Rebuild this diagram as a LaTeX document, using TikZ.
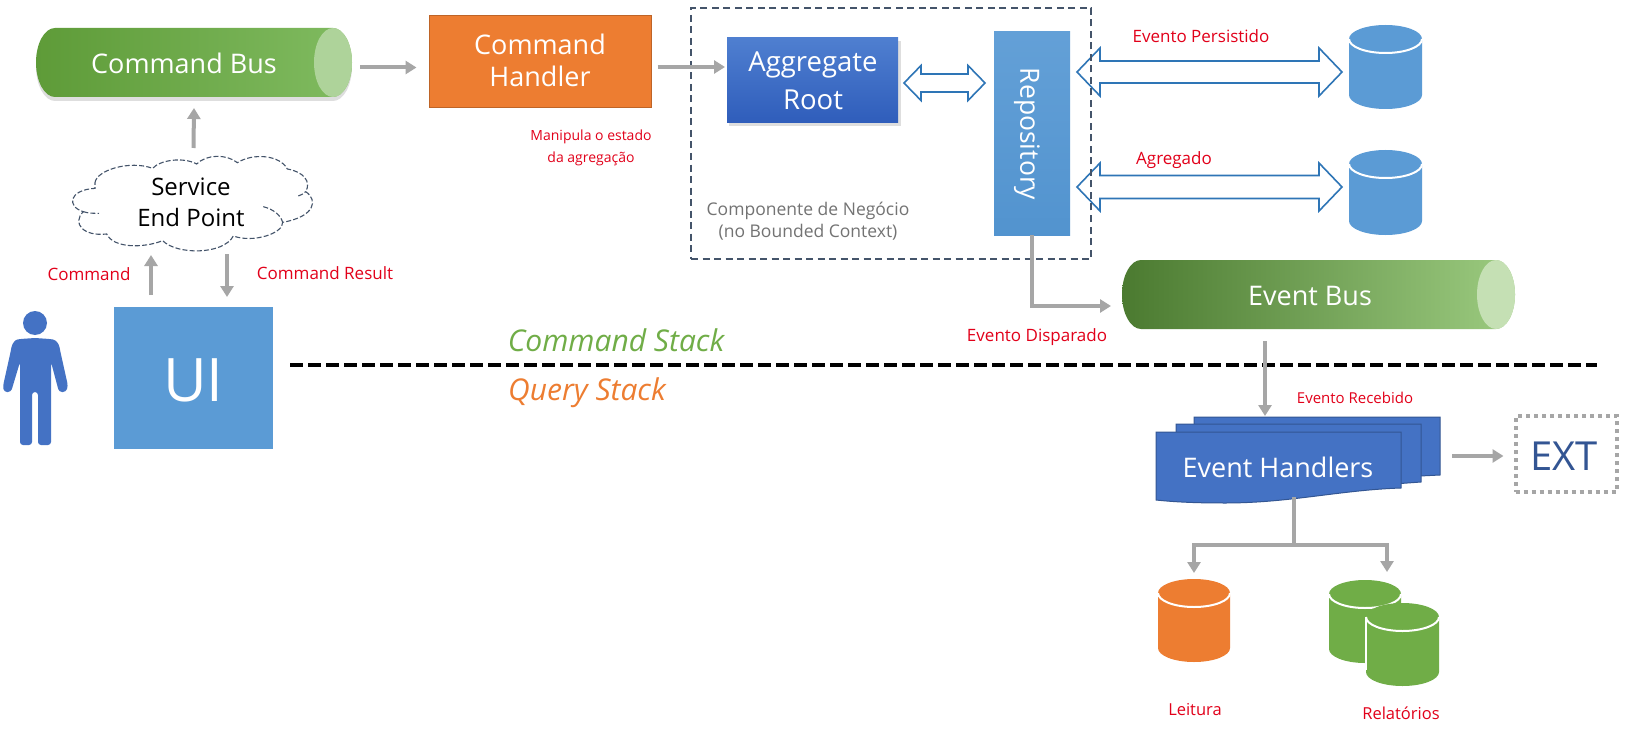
\documentclass[tikz,border=0pt]{standalone}
\usepackage{fontspec}
\setmainfont{Open Sans}
\usetikzlibrary{arrows.meta}
\definecolor{garrowc}{HTML}{A6A6A6}
\definecolor{lblred}{HTML}{E2001A}
\definecolor{bluefill}{HTML}{5B9BD5}
\definecolor{navy}{HTML}{44546A}
\definecolor{royal}{HTML}{4472C4}
\definecolor{orng}{HTML}{ED7D31}
\definecolor{grn}{HTML}{70AD47}
\definecolor{arrowblue}{HTML}{2E75B6}
\newcommand{\fs}[1]{\fontsize{#1pt}{#1pt}\selectfont}
\tikzset{
  garrow/.style={draw=garrowc,line width=4pt,-{Triangle[length=11pt,width=13pt]}},
  gline/.style={draw=garrowc,line width=4pt},
  frame/.style={rectangle,inner sep=0pt,outer sep=0pt},
  redlabel/.style={text=lblred,font=\fs{17},align=center,inner sep=0pt},
  bigwhite/.style={text=white,font=\fs{27},align=center,inner sep=0pt},
  dblarrow/.style={draw=arrowblue,fill=white,line width=1.6pt,line join=miter},
  softshadow/.style={fill=black,opacity=.13}
}
% x1, x2, yc, half shaft, half head, head length
\newcommand{\dblarr}[6]{%
  \filldraw[dblarrow] (#1,#3) -- (#1+#6,#3-#5) -- (#1+#6,#3-#4) -- (#2-#6,#3-#4) -- (#2-#6,#3-#5) -- (#2,#3)
    -- (#2-#6,#3+#5) -- (#2-#6,#3+#4) -- (#1+#6,#3+#4) -- (#1+#6,#3+#5) -- cycle;
}
% name, x1, x2, y1, y2, colour
\newcommand{\dbcyl}[6]{%
  \fill[#6] (#2,#4+14) arc[start angle=180,end angle=0,x radius={((#3)-(#2))/2*1pt},y radius=14pt]
     -- (#3,#5-14) arc[start angle=0,end angle=-180,x radius={((#3)-(#2))/2*1pt},y radius=14pt] -- cycle;
  \draw[white,line width=2pt] (#2,#4+14) arc[start angle=180,end angle=360,x radius={((#3)-(#2))/2*1pt},y radius=14pt];
  \node[frame,minimum width={((#3)-(#2))*1pt},minimum height={((#5)-(#4))*1pt}] (#1) at ({((#2)+(#3))/2},{((#4)+(#5))/2}) {};
}
% name, x1, x2, y1, y2, left, mid, right, cap
\newcommand{\busshape}[9]{%
  \pgfmathsetmacro{\busry}{((#5)-(#4))/2}
  \shade[left color=#6,middle color=#7,right color=#8]
    (#2+19,#4) -- (#3-19,#4) arc[start angle=90,end angle=-90,x radius=19pt,y radius=\busry pt]
    -- (#2+19,#5) arc[start angle=270,end angle=90,x radius=19pt,y radius=\busry pt] -- cycle;
  \fill[#9] (#3-19,#4) arc[start angle=90,end angle=-90,x radius=19pt,y radius=\busry pt]
    arc[start angle=270,end angle=90,x radius=19pt,y radius=\busry pt] -- cycle;
  \node[frame,minimum width={((#3)-(#2))*1pt},minimum height={((#5)-(#4))*1pt}] (#1) at ({((#2)+(#3))/2},{((#4)+(#5))/2}) {};
}
\definecolor{gbusL}{HTML}{5E9B38}
\definecolor{gbusM}{HTML}{6FB03F}
\definecolor{gbusR}{HTML}{80BB60}
\definecolor{gbusC}{HTML}{AED39A}
\definecolor{ebusL}{HTML}{4B7A30}
\definecolor{ebusM}{HTML}{70AF48}
\definecolor{ebusR}{HTML}{9CCB80}
\definecolor{ebusC}{HTML}{C5E0B4}
\definecolor{aggT}{HTML}{4F7FD0}
\definecolor{aggB}{HTML}{2F5DBB}
\begin{document}
\begin{tikzpicture}[x=1pt,y=-1pt]
\useasboundingbox (0,0) rectangle (1629,730);
\fill[white] (0,0) rectangle (1629,730);

% separator
\coordinate (sepL) at (290,365);
\coordinate (sepR) at (1597,365);
\draw[black,line width=4pt,dash pattern=on 13pt off 5pt] (sepL) -- (sepR);
\node[inner sep=0pt,text=grn,font=\fs{30}\itshape] (cmdstack) at (616,340) {Command Stack};
\node[inner sep=0pt,text=orng,font=\fs{30}\itshape] (qrystack) at (587,393) {Query Stack};

% Command bus
\fill[softshadow] (36+19,32) -- (352-19,32) arc[start angle=90,end angle=-90,x radius=19pt,y radius=34.5pt] -- (36+19,101) arc[start angle=270,end angle=90,x radius=19pt,y radius=34.5pt] -- cycle;
\busshape{cmdbus}{36}{352}{28}{97}{gbusL}{gbusM}{gbusR}{gbusC}
\node[bigwhite] (cmdbuslabel) at (184,63) {Command Bus};

% Cloud
\begin{scope}[x=1/3*1pt,y=-1/3*1pt]
\draw[navy,fill=white,line width=1.1pt,dash pattern=on 5pt off 2.2pt]
 (285,548) .. controls (290,510) and (390,480) .. (458,505)
 .. controls (480,480) and (550,470) .. (590,492)
 .. controls (620,462) and (680,462) .. (712,488)
 .. controls (760,458) and (840,465) .. (862,507)
 .. controls (910,515) and (935,545) .. (917,575)
 .. controls (955,600) and (945,650) .. (848,667)
 .. controls (850,700) and (760,730) .. (700,708)
 .. controls (670,765) and (530,765) .. (488,722)
 .. controls (430,745) and (340,745) .. (320,702)
 .. controls (250,710) and (215,670) .. (250,635)
 .. controls (200,620) and (205,570) .. (285,565)
 -- cycle;
\draw[navy,line width=1.1pt,dash pattern=on 5pt off 2.2pt]
 (790,620) .. controls (820,628) and (842,645) .. (848,667)
 (895,588) .. controls (905,585) and (912,580) .. (917,575)
 (250,635) .. controls (265,640) and (280,640) .. (297,640);
\end{scope}
\node[frame,minimum width=243pt,minimum height=96pt] (cloud) at (193.5,204) {};
\node[inner sep=0pt,align=center,text=black,font=\fs{24}] (cloudtext) at (191,202) {Service\\[7pt]End Point};

% UI
\node[frame,fill=bluefill,minimum width=159pt,minimum height=142pt] (ui) at (193.5,378) {};
\node[inner sep=0pt,text=white,font=\fs{60}] (uilabel) at (193.5,380) {UI};

% Person
\fill[royal] (35,323) circle[radius=12pt];
\fill[royal,rounded corners=3pt] (35,338) -- (50,339) .. controls (56,340) and (59,344) .. (60,350)
  -- (68,386) -- (66,392) -- (59,392) -- (51,362) -- (51,445) -- (38,445) -- (38,392) -- (32,392) -- (32,445) -- (20,445) -- (20,362)
  -- (11,392) -- (4,392) -- (3,386) -- (11,350) .. controls (12,344) and (15,340) .. (20,339) -- cycle;

% Command handler
\node[frame,fill=orng,draw=orng!80!black,line width=1pt,minimum width=222pt,minimum height=92pt] (cmdhandler) at (540.5,62) {};
\node[bigwhite] (cmdhandlerlabel) at (540,60) {Command\\[5pt]Handler};
\node[redlabel,font=\fs{14}] (manipula) at (591,147.5) {Manipula o estado\\[8pt]da agregação};

% right double arrows (below dashed frame)
\dblarr{1077}{1342}{72}{11}{24}{23}
\dblarr{1077}{1342}{187}{11.5}{24}{23}

% Aggregate root
\fill[softshadow] (729,41) rectangle (901,126);
\node[frame,top color=aggT,bottom color=aggB,minimum width=171pt,minimum height=85pt] (aggroot) at (812.5,80.5) {};
\node[bigwhite,font=\fs{27.5}] (aggrootlabel) at (813,81) {Aggregate\\[10pt]Root};
\dblarr{904}{985}{83}{9}{17.5}{17}

% Repository
\node[frame,top color=bluefill!95!white,bottom color=bluefill!80!arrowblue,minimum width=76pt,minimum height=203pt] (repo) at (1032,133.5) {};
\node[inner sep=0pt,rotate=-90,text=white,font=\fs{26.5}] (repolabel) at (1027,134) {Repository};

% Dashed frame
\node[frame,draw=navy,line width=1.6pt,dash pattern=on 7pt off 4.5pt,minimum width=400pt,minimum height=251pt] (bizframe) at (891,133.5) {};
\node[inner sep=0pt,align=center,text=black!55,font=\fs{17.5}] (bizlabel) at (808,221) {Componente de Negócio\\[4pt](no Bounded Context)};

% Databases
\dbcyl{dbevents}{1349}{1422}{25}{109}{bluefill}
\dbcyl{dbagg}{1349}{1422}{150}{235}{bluefill}
\node[redlabel] (persistlabel) at (1201,36) {Evento Persistido};
\node[redlabel] (agglabel) at (1174,160) {Agregado};

% Event bus
\busshape{eventbus}{1122}{1515}{260}{329}{ebusL}{ebusM}{ebusR}{ebusC}
\node[bigwhite] (eventbuslabel) at (1310,296) {Event Bus};
\node[redlabel] (dispLabel) at (1037,337) {Evento Disparado};
\node[redlabel,font=\fs{15}] (recvLabel) at (1355,398) {Evento Recebido};

% Event handlers
\filldraw[fill=royal,draw=royal!75!black,line width=1pt] (1194,417) -- (1440,417) -- (1440,475) -- (1380,478) -- (1194,478) -- cycle;
\filldraw[fill=royal,draw=royal!75!black,line width=1pt] (1176,424) -- (1421,424) -- (1421,482) -- (1380,485) -- (1176,485) -- cycle;
\filldraw[fill=royal,draw=royal!75!black,line width=1pt] (1156,432) -- (1401,432) -- (1401,488)
  .. controls (1340,490) and (1290,503) .. (1225,503) .. controls (1195,503) and (1175,502) .. (1156,500) -- cycle;
\node[frame,minimum width=284pt,minimum height=86pt] (ehandlers) at (1298,460) {};
\node[bigwhite] (ehandlerslabel) at (1278,467) {Event Handlers};

% EXT
\node[frame,draw=garrowc,line width=4pt,dash pattern=on 4pt off 4pt,minimum width=101pt,minimum height=76pt] (ext) at (1566,454) {};
\node[inner sep=0pt,text=royal!75!black,font=\fs{40}] (extlabel) at (1564,456) {EXT};

% Read / report stores
\dbcyl{dbread}{1158}{1230}{579}{662}{orng}
\dbcyl{dbrep1}{1329}{1401}{580}{663}{grn}
\dbcyl{dbrep2}{1366}{1439}{603}{686}{grn}
\draw[white,line width=2pt] (1366,617) -- (1366,670);
\node[frame,minimum width=110pt,minimum height=106pt] (dbreport) at (1384,633) {};
\node[redlabel,font=\fs{16.5}] (leitura) at (1195,710) {Leitura};
\node[redlabel,font=\fs{16.5}] (relat) at (1401,713) {Relatórios};

% Connectors
\draw[garrow] ([yshift=8pt]cloud.north) -- ([yshift=-11pt]cmdbus.south);
\draw[garrow] ([xshift=-42.5pt,yshift=12pt]ui.north) -- ([xshift=-42.5pt,yshift=-3pt]cloud.south);
\draw[garrow] ([xshift=33.5pt,yshift=-2pt]cloud.south) -- ([xshift=33.5pt,yshift=10pt]ui.north);
\node[redlabel] (cmdlabel) at (89,274) {Command};
\node[redlabel] (resultlabel) at (325,273) {Command Result};
\draw[garrow] ([shift={(8pt,-5pt)}]cmdbus.east) -- ([shift={(-13pt,-5.5pt)}]cmdhandler.west);
\draw[garrow] ([shift={(6pt,-5pt)}]cmdhandler.east) -- ([shift={(-2pt,13.5pt)}]aggroot.west);
\draw[garrow] (repo.south) |- ([shift={(-11pt,-11.5pt)}]eventbus.west);
\draw[garrow] ([shift={(-53.5pt,-12pt)}]eventbus.south) -- ([shift={(-33pt,1pt)}]ehandlers.north);
\draw[garrow] ([shift={(12pt,4pt)}]ehandlers.east) -- ([shift={(-12pt,-2pt)}]ext.west);
\coordinate (branch) at (1294,545);
\draw[gline] ([shift={(-4pt,6pt)}]ehandlers.south) -- (branch);
\draw[garrow] (branch) -| ([yshift=6pt]dbread.north);
\draw[garrow] (branch) -| ([shift={(3pt,8pt)}]dbreport.north);
\end{tikzpicture}
\end{document}
